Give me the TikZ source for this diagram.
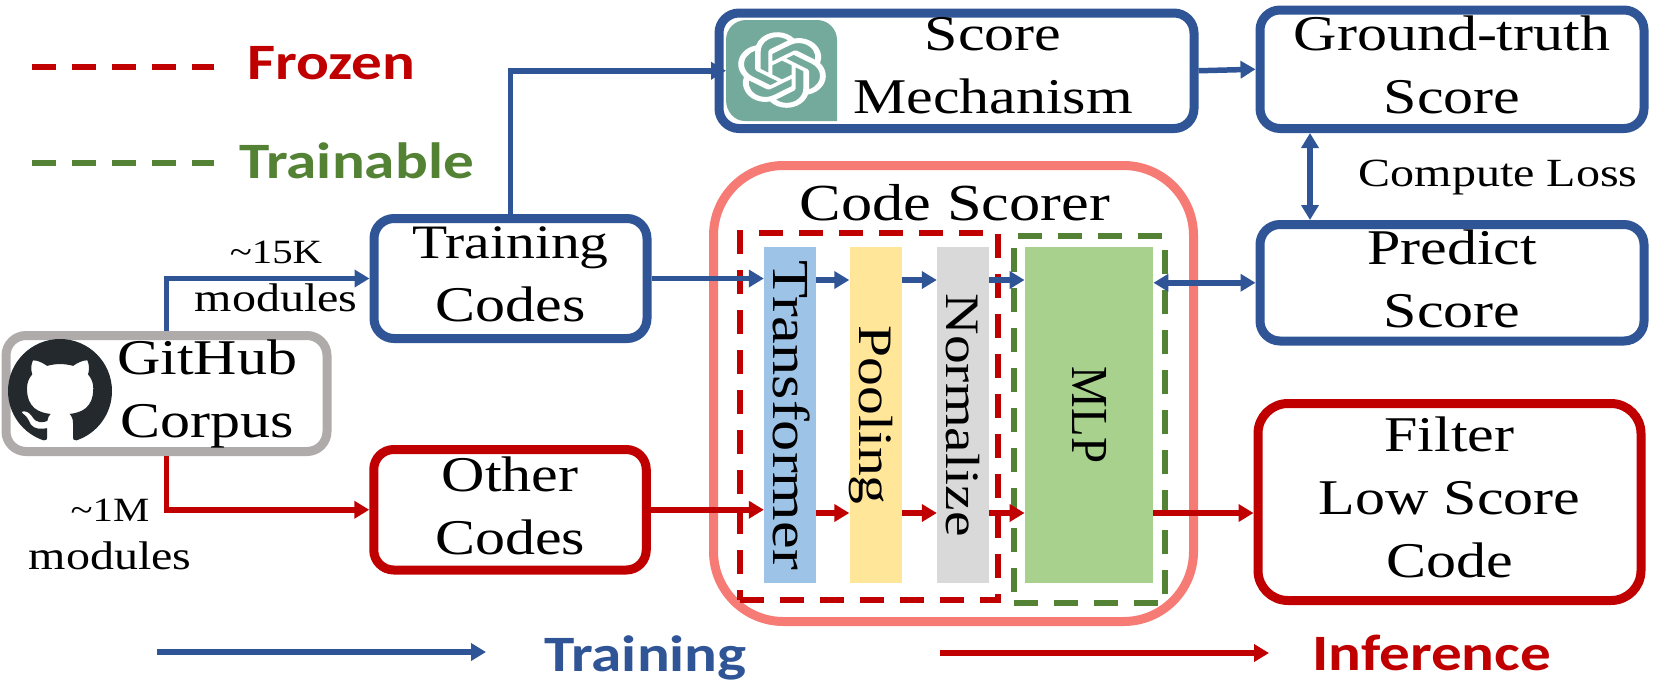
\documentclass[tikz,border=0pt]{standalone}
\usepackage{fontspec}
\setmainfont[FakeStretch=1.2]{Liberation Serif}
\newfontfamily\mlpfont[FakeStretch=0.9]{Liberation Serif}
\newfontfamily\legendfont[FakeStretch=1.2]{Carlito}
\usetikzlibrary{arrows.meta,svg.path}
\definecolor{flowblue}{HTML}{2F5597}
\definecolor{flowred}{HTML}{C00000}
\definecolor{flowgreen}{HTML}{548235}
\definecolor{scorerpink}{HTML}{F57B74}
\definecolor{corpusgray}{HTML}{AFABAB}
\definecolor{catdark}{HTML}{24292E}
\definecolor{logogreen}{HTML}{74AA9C}
\definecolor{blockblue}{HTML}{9DC3E6}
\definecolor{blockyellow}{HTML}{FFE699}
\definecolor{blockgray}{HTML}{D9D9D9}
\definecolor{blockgreen}{HTML}{A9D18E}
\newcommand{\boxfont}{\fontsize{50}{63}\selectfont}
\newcommand{\narrowfont}{\fontsize{48}{63}\selectfont}
\newcommand{\smallfont}{\fontsize{40}{48}\selectfont}
\newcommand{\tinyfont}{\fontsize{34}{48}\selectfont}
\newcommand{\legfont}{\fontsize{51}{60}\selectfont\legendfont\bfseries}
\newcommand{\lift}{\rule[-9pt]{0pt}{0pt}}
\tikzset{
	flowtip/.tip={Triangle[length=15pt,width=17pt]},
	trainarrow/.style={flowblue,line width=5.5pt,-flowtip},
	inferarrow/.style={flowred,line width=5.5pt,-flowtip},
	bothways/.style={flowblue,line width=5.5pt,flowtip-flowtip},
	codebox/.style={fill=white,line width=9pt,rounded corners=20pt,inner sep=0pt,font=\boxfont,align=center},
	blockbox/.style={rotate=-90,inner sep=0pt,minimum width=336pt,minimum height=52pt,font=\boxfont,text height=33pt,text depth=0pt},
	dashbox/.style={line width=6pt,dash pattern=on 24pt off 16pt,inner sep=0pt},
	legline/.style={line width=6.5pt,dash pattern=on 24pt off 16pt},
	plaintext/.style={inner sep=0pt,align=center},
}
\begin{document}
\begin{tikzpicture}[x=1pt,y=-1pt]
	\useasboundingbox (0,0) rectangle (1661,689);
	% legend on top
	\coordinate (frozena) at (32,67);
	\coordinate (frozenb) at (214,67);
	\coordinate (trainablea) at (32,163);
	\coordinate (trainableb) at (214,163);
	\draw[legline,flowred] (frozena) -- (frozenb);
	\draw[legline,flowgreen] (trainablea) -- (trainableb);
	\draw (247,79) node[anchor=base west,inner sep=0pt,font=\legfont,text=flowred] (frozenlabel) {Frozen};
	\draw (239,178) node[anchor=base west,inner sep=0pt,font=\legfont,text=flowgreen] (trainablelabel) {Trainable};
	% code scorer and its layers
	\draw (953.5,393.5) node[draw=scorerpink,line width=9pt,rounded corners=70pt,minimum width=480pt,minimum height=456pt] (scorer) {};
	\draw (955,220) node[anchor=base,inner sep=0pt,font=\fontsize{52}{63}\selectfont] (scorertitle) {Code Scorer};
	\draw (869,416.5) node[dashbox,draw=flowred,minimum width=258pt,minimum height=367pt] (frozenframe) {};
	\draw (1089.25,419.5) node[dashbox,draw=flowgreen,minimum width=150.5pt,minimum height=367pt] (trainframe) {};
	\draw (790,415) node[blockbox,font=\fontsize{52}{63}\selectfont,fill=blockblue] (xformer) {Transformer};
	\draw (875.5,415) node[blockbox,font=\narrowfont,fill=blockyellow] (pool) {Pooling};
	\draw (963,415) node[blockbox,font=\narrowfont,fill=blockgray] (norm) {Normalize};
	\draw (1089,415) node[blockbox,minimum height=128.5pt,fill=blockgreen] (mlp) {\fontsize{52}{56}\mlpfont MLP};
	% boxes
	\draw (166.5,393.5) node[codebox,draw=corpusgray,minimum width=321pt,minimum height=116pt] (corpus) {};
	\draw (510.5,278.5) node[codebox,draw=flowblue,minimum width=273pt,minimum height=120pt] (tcodes) {{\narrowfont Training}\\Codes\lift};
	\draw (510,509.75) node[codebox,draw=flowred,minimum width=272.5pt,minimum height=120.5pt] (ocodes) {Other\\Codes\lift};
	\draw (956.5,70.75) node[codebox,draw=flowblue,minimum width=475pt,minimum height=115.5pt] (score) {};
	\draw (1452,69.25) node[codebox,draw=flowblue,minimum width=384pt,minimum height=118.5pt] (truth) {Ground-truth\\Score\lift};
	\draw (1452,282.75) node[codebox,draw=flowblue,minimum width=384pt,minimum height=116.5pt] (predict) {Predict\\Score\lift};
	\draw (1449.5,502) node[codebox,draw=flowred,rounded corners=30pt,minimum width=383pt,minimum height=197pt] (filter) {Filter\\Low Score\\Code\lift};
	\draw (993,66) node[plaintext,font=\boxfont] (scoretext) {Score\\Mechanism};
	\draw (207,394) node[plaintext,font=\boxfont] (corpustext) {GitHub\\Corpus};
	% logos
	\begin{scope}[shift={(8,339)},scale=6.5,yscale=-1]
		\fill[catdark] svg {M 8 0 C 3.58 0 0 3.58 0 8 c 0 3.54 2.29 6.53 5.47 7.59 c 0.4 0.07 0.55 -0.17 0.55 -0.38 c 0 -0.19 -0.01 -0.82 -0.01 -1.49 c -2.01 0.37 -2.53 -0.49 -2.69 -0.94 c -0.09 -0.23 -0.48 -0.94 -0.82 -1.13 c -0.28 -0.15 -0.68 -0.52 -0.01 -0.53 c 0.63 -0.01 1.08 0.58 1.23 0.82 c 0.72 1.21 1.87 0.87 2.33 0.66 c 0.07 -0.52 0.28 -0.87 0.51 -1.07 c -1.78 -0.2 -3.64 -0.89 -3.64 -3.95 c 0 -0.87 0.31 -1.59 0.82 -2.15 c -0.08 -0.2 -0.36 -1.02 0.08 -2.12 c 0 0 0.67 -0.21 2.2 0.82 c 0.64 -0.18 1.32 -0.27 2 -0.27 c 0.68 0 1.36 0.09 2 0.27 c 1.53 -1.04 2.2 -0.82 2.2 -0.82 c 0.44 1.1 0.16 1.92 0.08 2.12 c 0.51 0.56 0.82 1.27 0.82 2.15 c 0 3.07 -1.87 3.75 -3.65 3.95 c 0.29 0.25 0.54 0.73 0.54 1.48 c 0 1.07 -0.01 1.93 -0.01 2.2 c 0 0.21 0.15 0.46 0.55 0.38 C 13.71 14.53 16 11.54 16 8 c 0 -4.42 -3.58 -8 -8 -8 z};
	\end{scope}
	\fill[logogreen] (837,121) -- (745,121) to[out=180,in=-90] (726,100) -- (726,40) to[out=90,in=180] (746,20) -- (817,20) to[out=0,in=90] (837,40) -- cycle;
	\coordinate (logo) at (726,70.75);
	\begin{scope}[shift={(737.6,32.2)},xscale=3.7,yscale=-3.15]
		\fill[white,even odd rule] svg {M 22.2819 9.8211 a 5.9847 5.9847 0 0 0 -0.5157 -4.9108 a 6.0462 6.0462 0 0 0 -6.5098 -2.9 A 6.0651 6.0651 0 0 0 4.9807 4.1818 a 5.9847 5.9847 0 0 0 -3.9977 2.9 a 6.0462 6.0462 0 0 0 0.7427 7.0966 a 5.98 5.98 0 0 0 0.511 4.9107 a 6.051 6.051 0 0 0 6.5146 2.9001 A 5.9847 5.9847 0 0 0 13.2599 24 a 6.0557 6.0557 0 0 0 5.7718 -4.2058 a 5.9894 5.9894 0 0 0 3.9977 -2.9001 a 6.0557 6.0557 0 0 0 -0.7475 -7.0729 z
		M 13.2599 22.4292 a 4.4755 4.4755 0 0 1 -2.8764 -1.0408 l 0.1419 -0.0804 l 4.7783 -2.7582 a 0.7948 0.7948 0 0 0 0.3927 -0.6813 v -6.7369 l 2.02 1.1686 a 0.071 0.071 0 0 1 0.038 0.052 v 5.5826 a 4.504 4.504 0 0 1 -4.4945 4.4944 z
		M 3.5992 18.3038 a 4.4708 4.4708 0 0 1 -0.5346 -3.0137 l 0.142 0.0852 l 4.783 2.7582 a 0.7712 0.7712 0 0 0 0.7806 0 l 5.8428 -3.3685 v 2.3324 a 0.0804 0.0804 0 0 1 -0.0332 0.0615 L 9.74 19.9502 a 4.4992 4.4992 0 0 1 -6.1408 -1.6464 z
		M 2.3408 7.8956 a 4.485 4.485 0 0 1 2.3655 -1.9728 V 11.6 a 0.7664 0.7664 0 0 0 0.3879 0.6765 l 5.8144 3.3543 l -2.0201 1.1685 a 0.0757 0.0757 0 0 1 -0.071 0 l -4.8303 -2.7865 A 4.504 4.504 0 0 1 2.3408 7.872 z
		M 18.9371 11.7514 L 13.1038 8.364 L 15.1192 7.2 a 0.0757 0.0757 0 0 1 0.071 0 l 4.8303 2.7913 a 4.4944 4.4944 0 0 1 -0.6765 8.1042 v -5.6772 a 0.79 0.79 0 0 0 -0.407 -0.667 z
		M 20.9478 8.7283 l -0.142 -0.0852 l -4.7735 -2.7818 a 0.7759 0.7759 0 0 0 -0.7854 0 L 9.409 9.2297 V 6.8974 a 0.0662 0.0662 0 0 1 0.0284 -0.0615 l 4.8303 -2.7866 a 4.4992 4.4992 0 0 1 6.6802 4.66 z
		M 8.3065 12.863 l -2.02 -1.1638 a 0.0804 0.0804 0 0 1 -0.038 -0.0567 V 6.0742 a 4.4992 4.4992 0 0 1 7.3757 -3.4537 l -0.142 0.0805 L 8.704 5.459 a 0.7948 0.7948 0 0 0 -0.3927 0.6813 z
		M 9.4041 10.4976 l 2.602 -1.4998 l 2.6069 1.4998 v 2.9994 l -2.5974 1.4997 l -2.6067 -1.4997 z};
	\end{scope}
	% connectors
	\coordinate (trainrow) at (0,280);
	\coordinate (inferrow) at (0,513);
	\coordinate (lossrow) at (1310,0);
	\draw[trainarrow] (corpus.north) |- (tcodes.west);
	\draw[inferarrow] (corpus.south) |- (ocodes.west);
	\draw[trainarrow] (tcodes.north) |- (logo);
	\draw[trainarrow] (score.east) -- (truth.west);
	\draw[bothways] (truth.south -| lossrow) -- (predict.north -| lossrow);
	\draw[trainarrow] (tcodes.east) -- (tcodes.east -| xformer.south);
	\draw[trainarrow] (xformer.north |- trainrow) -- (pool.south |- trainrow);
	\draw[trainarrow] (pool.north |- trainrow) -- (norm.south |- trainrow);
	\draw[trainarrow] (norm.north |- trainrow) -- (mlp.south |- trainrow);
	\draw[bothways] (mlp.north |- predict.west) -- (predict.west);
	\draw[inferarrow] (ocodes.east) -- (ocodes.east -| xformer.south);
	\draw[inferarrow] (xformer.north |- inferrow) -- (pool.south |- inferrow);
	\draw[inferarrow] (pool.north |- inferrow) -- (norm.south |- inferrow);
	\draw[inferarrow] (norm.north |- inferrow) -- (mlp.south |- inferrow);
	\draw[inferarrow] (mlp.north |- inferrow) -- (filter.west |- inferrow);
	% small labels
	\draw (276,276) node[plaintext,font=\smallfont] (fewmodules) {{\tinyfont\textasciitilde15K}\\modules};
	\draw (110,534) node[plaintext,font=\smallfont] (manymodules) {{\tinyfont\textasciitilde1M}\\modules};
	\draw (1498,186) node[anchor=base,inner sep=0pt,font=\smallfont] (lossnote) {Compute Loss};
	% legend at the bottom
	\coordinate (traina) at (157,652);
	\coordinate (trainb) at (486,652);
	\coordinate (infera) at (940,653);
	\coordinate (inferb) at (1269,653);
	\draw[trainarrow] (traina) -- (trainb);
	\draw[inferarrow] (infera) -- (inferb);
	\draw (544,671) node[anchor=base west,inner sep=0pt,font=\legfont,text=flowblue] (trainlabel) {Training};
	\draw (1312,670) node[anchor=base west,inner sep=0pt,font=\legfont,text=flowred] (inferlabel) {Inference};
\end{tikzpicture}
\end{document}
